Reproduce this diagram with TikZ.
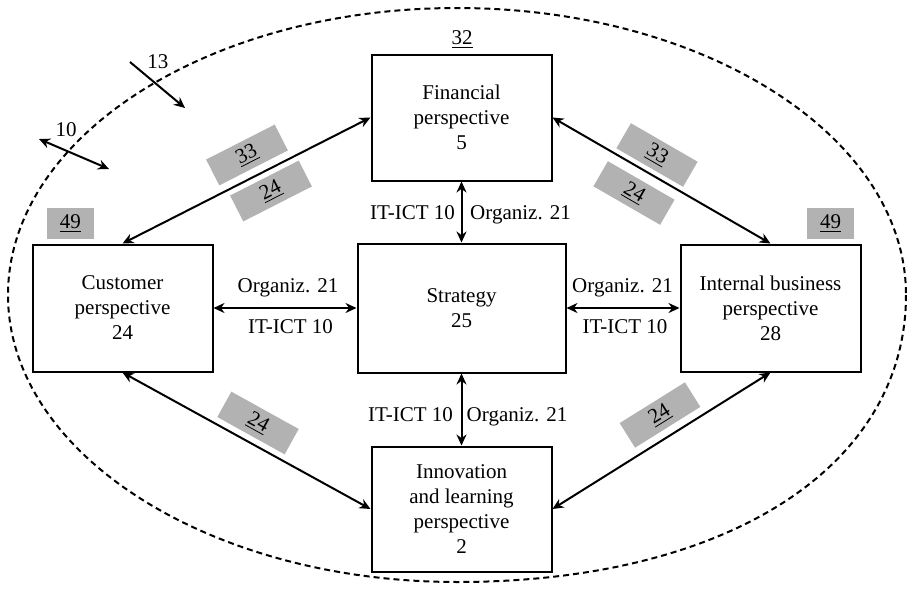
\documentclass[tikz,border=0pt]{standalone}
\usepackage{fontspec}
\setmainfont{Liberation Serif}
\usetikzlibrary{arrows.meta}
\begin{document}
\begin{tikzpicture}[x=0.5pt,y=-0.5pt,
  every node/.style={font=\fontsize{10.5}{12.5}\selectfont},
  box/.style={draw, line width=1pt, align=center, inner sep=0pt, minimum width=90pt},
  conn/.style={line width=1pt, {Stealth[length=5.5pt,width=5pt]}-{Stealth[length=5.5pt,width=5pt]}},
  oneway/.style={line width=1pt, -{Stealth[length=5.5pt,width=5pt]}},
  lbl/.style={anchor=base, inner sep=0pt},
  tag/.style={fill=gray!60, inner sep=0pt, minimum width=38.5pt, minimum height=14.5pt},
  ellip/.style={line width=1pt, dash pattern=on 3pt off 2pt}
]
\useasboundingbox (0,0) rectangle (907,590);

% dashed boundary
\draw[ellip] (906,295) .. controls (906,467.2) and (726.4,582) .. (457,582)
  .. controls (209,582) and (8,453.5) .. (8,295)
  .. controls (8,136.5) and (209,8) .. (457,8)
  .. controls (705,8) and (906,136.5) .. (906,295) -- cycle;

% boxes
\node[box, minimum height=63pt] (fin) at (461.5,117.5) {Financial\\perspective\\5};
\node[box, minimum width=104pt, minimum height=64.5pt] (str) at (461.5,308) {Strategy\\25};
\node[box, minimum height=62.5pt] (inn) at (461.5,509) {Innovation\\and learning\\perspective\\2};
\node[box, minimum height=63.5pt] (cus) at (122.5,308) {Customer\\perspective\\24};
\node[box, minimum height=63.5pt] (int) at (770.5,308) {Internal business\\perspective\\28};

% connectors
\draw[conn] (fin.west) -- (cus.north);
\draw[conn] (fin.east) -- (int.north);
\draw[conn] (cus.south) -- (inn.west);
\draw[conn] (int.south) -- (inn.east);
\draw[conn] (cus.east) -- (str.west);
\draw[conn] (str.east) -- (int.west);
\draw[conn] (fin.south) -- (str.north);
\draw[conn] (str.south) -- (inn.north);

% gray tags
\node[tag, rotate=27] (t1) at (247,155) {\underline{33}};
\node[tag, rotate=27] (t2) at (271,191) {\underline{24}};
\node[tag, rotate=-30] (t3) at (657,155) {\underline{33}};
\node[tag, rotate=-30] (t4) at (634,193) {\underline{24}};
\node[tag, rotate=-29] (t5) at (258,423) {\underline{24}};
\node[tag, rotate=32] (t6) at (660,415) {\underline{24}};
\node[tag, minimum width=23.5pt, minimum height=15.5pt] (t7) at (70.5,223.5) {\underline{49}};
\node[tag, minimum width=23.5pt, minimum height=15.5pt] (t8) at (830.5,223.5) {\underline{49}};
\node (t9) at (462,40) {\underline{32}};

% connector labels
\node[lbl] (l1) at (288,292) {Organiz. 21};
\node[lbl] (l2) at (290.5,333) {IT-ICT 10};
\node[lbl] (l3) at (622.5,292) {Organiz. 21};
\node[lbl] (l4) at (625,333) {IT-ICT 10};
\node[lbl] (l5) at (412.5,219) {IT-ICT 10};
\node[lbl] (l6) at (520.5,219) {Organiz. 21};
\node[lbl] (l7) at (410.5,421) {IT-ICT 10};
\node[lbl] (l8) at (517,421) {Organiz. 21};

% outside arrows
\coordinate (a1) at (130,62);
\coordinate (a2) at (185,108);
\draw[oneway] (a1) -- (a2);
\node (n13) at (158,62) {13};
\coordinate (b1) at (39,139);
\coordinate (b2) at (109,169);
\draw[conn] (b1) -- (b2);
\node (n10) at (66,130) {10};
\end{tikzpicture}
\end{document}
